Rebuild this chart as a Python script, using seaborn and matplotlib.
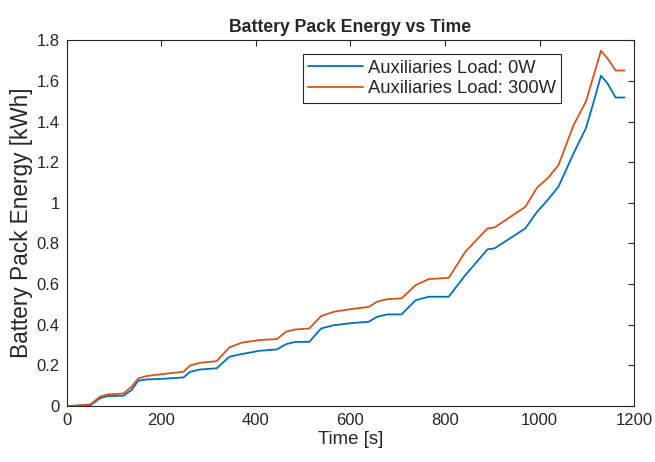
import pandas as pd
import numpy as np
import seaborn as sns
import matplotlib.pyplot as plt
from matplotlib.ticker import FuncFormatter

# time grid [s]
time_s = [0, 50, 70, 85, 120, 137, 151, 169, 201, 247, 261, 282, 317, 344, 370, 408,
          445, 464, 484, 513, 538, 565, 597, 639, 656, 678, 708, 738, 766, 808, 843,
          890, 905, 970, 995, 1017, 1040, 1072, 1098, 1115, 1130, 1144, 1161, 1180]

# battery pack energy [kWh], auxiliaries load 0W
energy_0w = [0, 0.004, 0.038, 0.049, 0.051, 0.079, 0.125, 0.131, 0.134, 0.141, 0.169,
             0.180, 0.186, 0.243, 0.256, 0.272, 0.279, 0.305, 0.316, 0.316, 0.382, 0.398,
             0.407, 0.415, 0.439, 0.451, 0.451, 0.521, 0.538, 0.538, 0.644, 0.771, 0.776,
             0.874, 0.956, 1.013, 1.079, 1.243, 1.366, 1.500, 1.625, 1.587, 1.518, 1.518]

# battery pack energy [kWh], auxiliaries load 300W
energy_300w = [0, 0.008, 0.046, 0.057, 0.062, 0.095, 0.136, 0.148, 0.157, 0.169, 0.200,
               0.213, 0.221, 0.289, 0.312, 0.325, 0.330, 0.366, 0.377, 0.382, 0.443, 0.464,
               0.476, 0.488, 0.513, 0.526, 0.530, 0.595, 0.625, 0.631, 0.759, 0.874, 0.879,
               0.980, 1.075, 1.120, 1.185, 1.382, 1.497, 1.630, 1.748, 1.710, 1.651, 1.651]

labels = ["Auxiliaries Load: 0W", "Auxiliaries Load: 300W"]

df = pd.DataFrame({
    "Time": time_s * 2,
    "Energy": energy_0w + energy_300w,
    "Load": [labels[0]] * len(time_s) + [labels[1]] * len(time_s),
})

sns.set_style("white")
plt.rcParams["font.family"] = ["Liberation Sans", "DejaVu Sans"]

fig = plt.figure(figsize=(6.55, 4.62), dpi=100)
ax = fig.add_axes([0.102, 0.121, 0.866, 0.792])

sns.lineplot(data=df, x="Time", y="Energy", hue="Load",
             palette=["#0072BD", "#D95319"], linewidth=1.3, ax=ax)

ax.set_xlim(0, 1200)
ax.set_ylim(0, 1.8)
ax.set_xticks(np.arange(0, 1201, 200))
ax.set_yticks(np.arange(0, 1.81, 0.2))
ax.yaxis.set_major_formatter(FuncFormatter(lambda v, p: "%g" % round(v, 1)))
ax.tick_params(direction="in", top=True, right=True, length=4, width=0.8,
               labelsize=12, colors="#262626", pad=5)
for s in ax.spines.values():
    s.set_color("#262626")
    s.set_linewidth(0.8)

ax.set_title("Battery Pack Energy vs Time", fontsize=12.7, fontweight="bold", pad=6)
ax.set_xlabel("Time [s]", fontsize=13.4, labelpad=2)
ax.set_ylabel("Battery Pack Energy [kWh]", fontsize=16.3, labelpad=3)

leg = ax.legend(loc="upper right", bbox_to_anchor=(0.872, 0.962), fontsize=13.2,
                fancybox=False, framealpha=1, handlelength=3.0, borderpad=0.3,
                labelspacing=0.2, handletextpad=0.25, borderaxespad=0)
leg.get_frame().set_edgecolor("#262626")
leg.get_frame().set_linewidth(0.8)

fig.savefig("out.png", dpi=100)
